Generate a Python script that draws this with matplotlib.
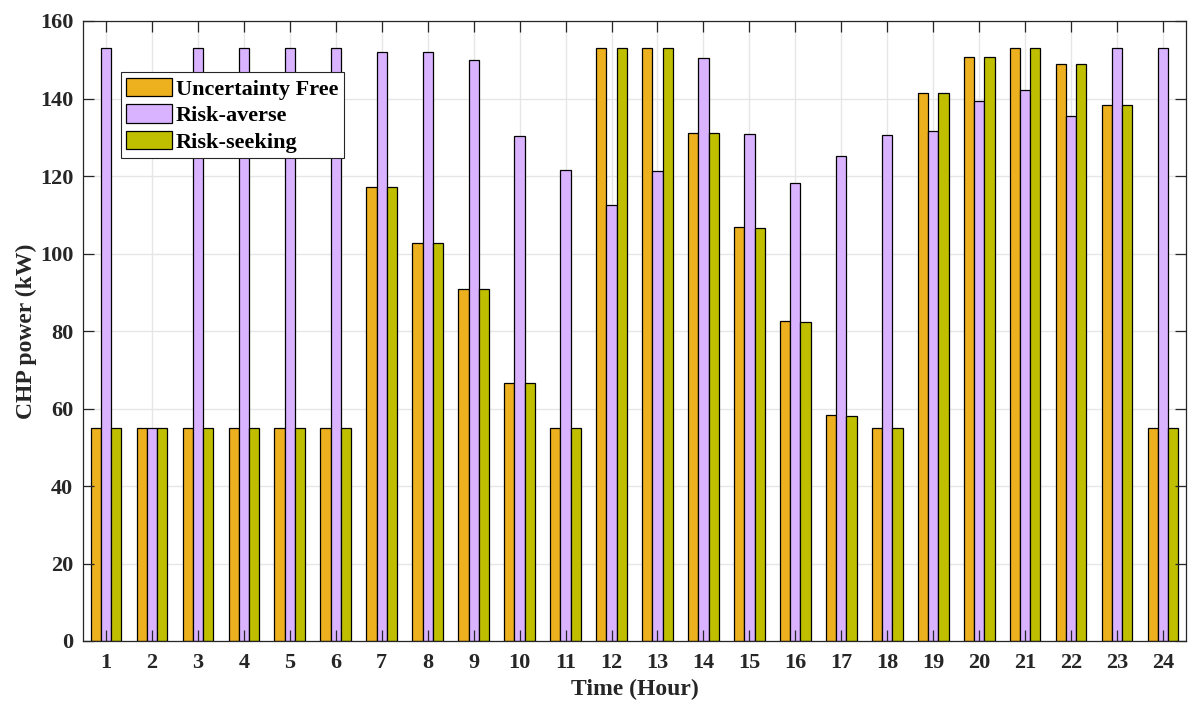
import matplotlib
matplotlib.use("Agg")
import matplotlib.pyplot as plt
import numpy as np

hours = list(range(1, 25))
uncertainty_free = [55, 55, 55, 55, 55, 55, 117.2, 102.6, 90.8, 66.5, 55, 153.1,
                    153.1, 131.2, 106.9, 82.5, 58.2, 55, 141.3, 150.6, 153.1, 149.0, 138.2, 55]
risk_averse = [153.1, 55, 153.1, 153.1, 153.1, 153.1, 152.1, 152.0, 149.9, 130.3, 121.5, 112.5,
               121.4, 150.4, 130.8, 118.3, 125.1, 130.6, 131.7, 139.4, 142.2, 135.6, 153.1, 153.1]
risk_seeking = [55, 55, 55, 55, 55, 55, 117.2, 102.6, 90.8, 66.5, 55, 153.1,
                153.1, 131.1, 106.7, 82.3, 58.1, 55, 141.3, 150.6, 153.1, 149.0, 138.2, 55]
series_names = ["Uncertainty Free", "Risk-averse", "Risk-seeking"]
y_ticks = [0, 20, 40, 60, 80, 100, 120, 140, 160]

colors = ["#EDB120", "#D9B3FF", "#BFBF00"]

plt.rcParams['font.family'] = ['Liberation Serif', 'DejaVu Serif']
plt.rcParams['font.weight'] = 'bold'

fig = plt.figure(figsize=(11.92, 7.02), dpi=100)
ax = fig.add_axes([83/1192, 1-641/702, 1103/1192, 620/702])

x = np.array(hours, dtype=float)
w = 2/9
for i, (vals, name, c) in enumerate(zip([uncertainty_free, risk_averse, risk_seeking], series_names, colors)):
    ax.bar(x + (i - 1) * w, vals, width=w, color=c, edgecolor='black', linewidth=0.9,
           label=name, zorder=1)

ax.set_xlim(0.5, 24.5)
ax.set_ylim(0, 160)
ax.set_xticks(hours)
ax.set_yticks(y_ticks)

for t in ax.get_xticks():
    ax.axvline(t, color='#e6e6e6', linewidth=1.0, zorder=0.3)
for t in ax.get_yticks():
    ax.axhline(t, color='#e6e6e6', linewidth=1.0, zorder=0.3)

ax.tick_params(direction='in', length=8, width=0.9, top=True, right=True,
               labelsize=16, color='#262626', labelcolor='#262626')
ax.tick_params(axis='x', pad=9)
ax.tick_params(axis='y', pad=7)
for lab in ax.get_xticklabels() + ax.get_yticklabels():
    lab.set_fontweight('bold')
for s in ax.spines.values():
    s.set_color('#262626')
    s.set_linewidth(0.9)
    s.set_zorder(3)

ax.set_xlabel("Time (Hour)", fontsize=17, fontweight='bold', color='#262626', labelpad=4)
ax.set_ylabel("CHP power (kW)", fontsize=17, fontweight='bold', color='#262626', labelpad=2)

leg = ax.legend(loc='upper left', bbox_to_anchor=(0.034, 0.917), borderaxespad=0,
                prop={'family': 'Liberation Serif', 'weight': 'bold', 'size': 16},
                fancybox=False, framealpha=1, edgecolor='#262626',
                handlelength=2.05, handleheight=0.9, labelspacing=0.2,
                handletextpad=0.2, borderpad=0.25)
leg.get_frame().set_linewidth(0.8)
leg.set_zorder(5)

fig.savefig("out.png", dpi=100)
